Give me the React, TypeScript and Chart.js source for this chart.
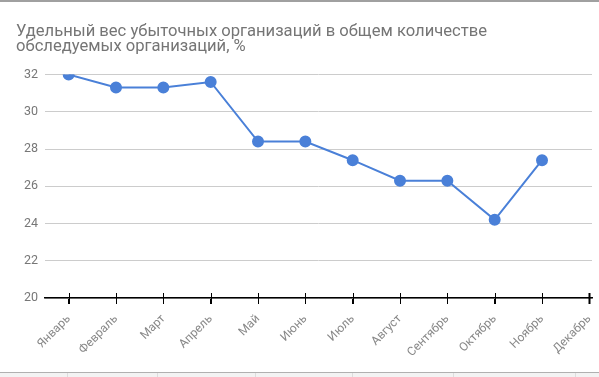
import React, { useEffect, useRef } from "react";
import { Chart, registerables } from "chart.js";

Chart.register(...registerables);

const titleLines = [
  "Удельный вес убыточных организаций в общем количестве",
  "обследуемых организаций, %",
];
const months = [
  "Январь", "Февраль", "Март", "Апрель", "Май", "Июнь",
  "Июль", "Август", "Сентябрь", "Октябрь", "Ноябрь", "Декабрь",
];
const values: (number | null)[] = [32.0, 31.3, 31.3, 31.6, 28.4, 28.4, 27.4, 26.3, 26.3, 24.2, 27.4, null];
const yTicks = [20, 22, 24, 26, 28, 30, 32];

const tickMarks = {
  id: "tickMarks",
  afterDraw(chart: any) {
    const xs = chart.scales.x;
    const ctx = chart.ctx;
    const y = chart.chartArea.bottom;
    ctx.save();
    ctx.strokeStyle = "#000";
    xs.ticks.forEach((t: any, i: number) => {
      const x = Math.round(xs.getPixelForValue(t.value)) + 0.5;
      ctx.lineWidth = i === xs.ticks.length - 1 ? 2 : 1;
      ctx.beginPath();
      ctx.moveTo(x, y - 5);
      ctx.lineTo(x, y + 6);
      ctx.stroke();
    });
    ctx.restore();
  },
};

export default function App() {
  const ref = useRef<HTMLCanvasElement>(null);
  useEffect(() => {
    document.body.style.margin = "0";
    const chart = new Chart(ref.current!, {
      type: "line",
      data: {
        datasets: [
          {
            data: values.map((v, i) => ({ x: i, y: v })) as any,
            borderColor: "#4a80d8",
            backgroundColor: "#4a80d8",
            borderWidth: 2,
            pointRadius: 5,
            pointHoverRadius: 5,
            tension: 0,
          },
        ],
      },
      options: {
        animation: false,
        responsive: false,
        layout: { padding: { left: 16, right: 0, top: 0, bottom: 0 } },
        plugins: {
          legend: { display: false },
          tooltip: { enabled: false },
          title: {
            display: true,
            text: titleLines,
            align: "start",
            color: "#757575",
            font: { family: "Roboto", size: 16.6, weight: "normal", lineHeight: 0.92 },
            padding: { top: 24, bottom: 20 },
          },
        },
        scales: {
          x: {
            type: "linear",
            min: -0.5,
            max: 11.056,
            afterBuildTicks: (s: any) => {
              s.ticks = months.map((_, i) => ({ value: i }));
            },
            afterFit: (s: any) => {
              s.height = 79;
              s.paddingLeft = 0;
              s.paddingRight = 0;
            },
            grid: {
              display: true,
              drawOnChartArea: false,
              drawTicks: true,
              tickLength: 6,
              color: "#000",
            },
            border: { display: true, color: "#000", width: 1.5 },
            ticks: {
              autoSkip: false,
              maxRotation: 45,
              minRotation: 45,
              padding: 8,
              color: "#888",
              font: { family: "Roboto", size: 12 },
              callback: (v: any) => months[v as number],
            },
          },
          y: {
            min: 20,
            max: 32,
            afterBuildTicks: (s: any) => {
              s.ticks = yTicks.map((v) => ({ value: v }));
            },
            afterFit: (s: any) => {
              s.width = 29;
            },
            grid: { color: "#cccccc", drawTicks: false },
            border: { display: false },
            ticks: {
              padding: 7,
              color: "#777",
              font: { family: "Roboto", size: 12.5 },
            },
          },
        },
      },
      plugins: [tickMarks],
    });
    return () => chart.destroy();
  }, []);

  const seps = [67, 157, 255, 352, 453, 575];
  return (
    <div style={{ position: "relative", width: 599, height: 377, overflow: "hidden", background: "#fff" }}>
      <canvas ref={ref} width={599} height={377} style={{ display: "block" }} />
      <div style={{ position: "absolute", left: 0, top: 0, width: 599, height: 2, background: "#a0a0a0" }} />
      <div style={{ position: "absolute", left: 0, top: 372, width: 599, height: 5, background: "#f3f3f3", borderTop: "1px solid #b0b0b0" }} />
      {seps.map((x) => (
        <div key={x} style={{ position: "absolute", left: x, top: 373, width: 1, height: 4, background: "#dddddd" }} />
      ))}
    </div>
  );
}
